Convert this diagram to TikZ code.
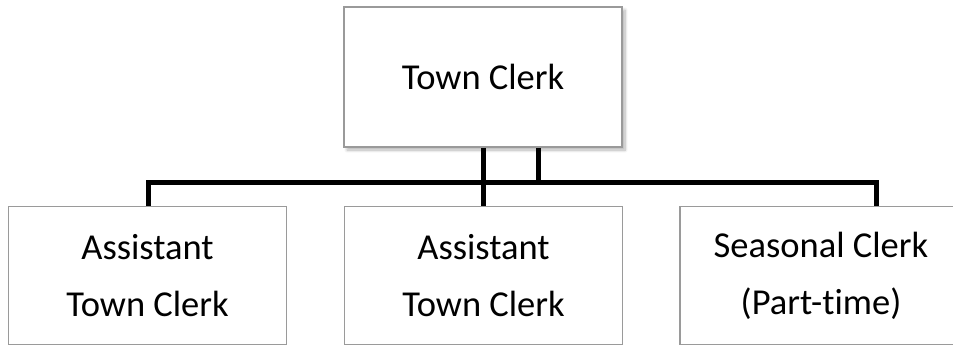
\documentclass[tikz,border=0pt]{standalone}
\usepackage{fontspec}
\setmainfont{Carlito}[Ligatures=NoCommon]
\usetikzlibrary{shadows.blur}
\definecolor{boxline}{HTML}{9A9A9A}
\tikzset{
  orgbox/.style={draw=boxline, line width=1.5pt, fill=white, minimum width=278pt,
    minimum height=139pt, inner sep=0pt, align=center,
    font=\fontsize{36.5}{57}\selectfont},
  conn/.style={draw=black, line width=5pt, line join=miter},
}
\begin{document}
\begin{tikzpicture}[x=1pt,y=-1pt]
\useasboundingbox (0,0) rectangle (953,346);
\node[orgbox, minimum height=140pt, blur shadow={shadow xshift=3pt, shadow yshift=-3pt, shadow blur steps=8, shadow blur radius=3pt, shadow opacity=30}] (top) at (483,77) {Town Clerk};
\node[orgbox, minimum height=138pt] (a1) at (147.5,275.5) {Assistant\\Town Clerk};
\node[orgbox, minimum height=138pt] (a2) at (483.5,275.5) {Assistant\\Town Clerk};
\node[orgbox, minimum height=138pt, minimum width=282pt] (sc) at (821,275.5) {Seasonal Clerk\\(Part-time)};
\coordinate (busL) at (148,182);
\coordinate (busR) at (876,182);
\coordinate (tap) at (538,182);
\draw[conn] (top.south) -- (top.south |- a2.north);
\draw[conn] (tap |- top.south) -- (tap);
\draw[conn] (busL |- a1.north) -- (busL) -- (busR) -- (busR |- sc.north);
\end{tikzpicture}
\end{document}
